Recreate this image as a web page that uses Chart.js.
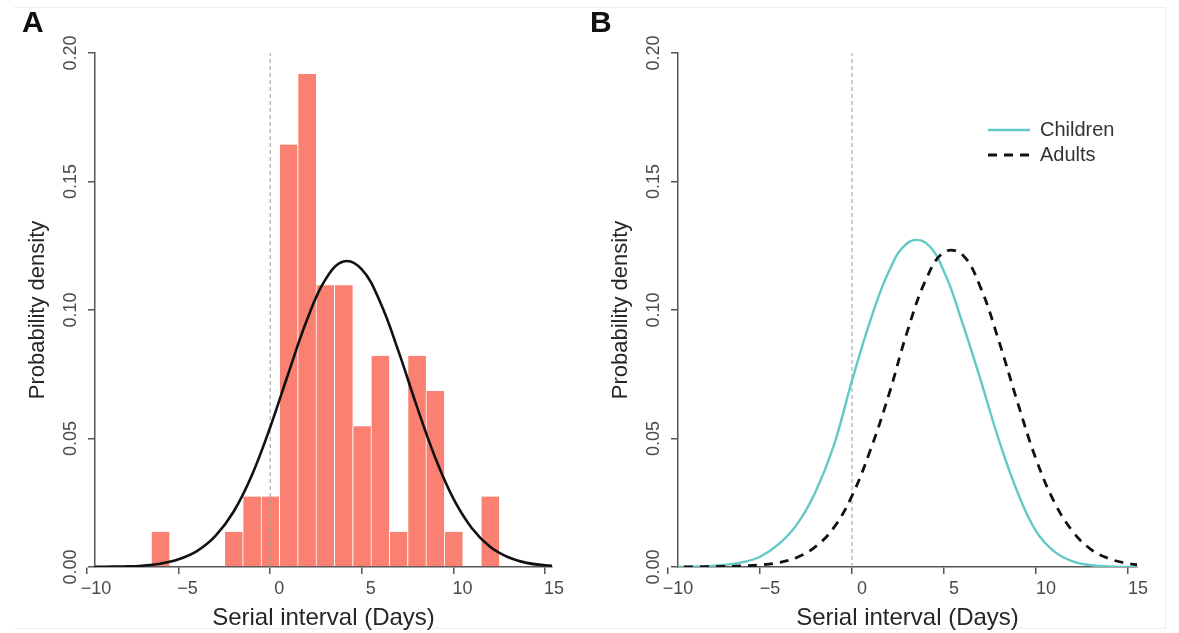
<!DOCTYPE html>
<html lang="en">
<head>
<meta charset="utf-8">
<title>Serial interval</title>
<script src="https://cdn.jsdelivr.net/npm/chart.js@4.4.1/dist/chart.umd.min.js"></script>
<style>
  html, body { margin: 0; padding: 0; background: #ffffff; }
  #pagina { position: relative; width: 1179px; height: 633px; overflow: hidden; background: #fff; }
  #moldura { position: absolute; left: 14px; top: 7px; width: 1152px; height: 622px; box-sizing: border-box;
             border-top: 1px solid #eeeeee; border-right: 1px solid #eeeeee; border-bottom: 1px solid #eeeeee; }
  canvas { position: absolute; top: 0; }
  #graficoA { left: 0; }
  #graficoB { left: 590px; }
</style>
</head>
<body>
<div id="pagina">
  <div id="moldura"></div>
  <canvas id="graficoA" width="590" height="633"></canvas>
  <canvas id="graficoB" width="589" height="633"></canvas>
</div>
<script>
// ---- dados ----

// Painel A: histograma (classes de 1 dia centradas nos inteiros)
const binCenters = [-6, -5, -4, -3, -2, -1, 0, 1, 2, 3, 4, 5, 6, 7, 8, 9, 10, 11, 12];
const binDensity = [0.0137, 0, 0, 0, 0.0137, 0.0274, 0.0274, 0.1644, 0.1918, 0.1096, 0.1096,
                    0.0548, 0.0822, 0.0137, 0.0822, 0.0685, 0.0137, 0, 0.0274];

// curvas (valores lidos a cada dia)
const curveX = [-10, -9, -8, -7, -6, -5, -4, -3, -2, -1, 0, 1, 2, 3, 4, 5, 6, 7, 8, 9, 10, 11, 12, 13, 14, 15, 16];
const fitA = [0.0000, 0.0001, 0.0002, 0.0005, 0.0013, 0.0030, 0.0062, 0.0120, 0.0215, 0.0357, 0.0544,
              0.0755, 0.0960, 0.1117, 0.1189, 0.1158, 0.1031, 0.0840, 0.0626, 0.0427, 0.0266, 0.0152,
              0.0079, 0.0038, 0.0016, 0.0007, 0.0003];
const children = [0.0000, 0.0001, 0.0003, 0.0008, 0.0018, 0.0040, 0.0088, 0.0165, 0.0290, 0.0470, 0.0725,
                  0.0960, 0.1150, 0.1260, 0.1262, 0.1150, 0.0950, 0.0725, 0.0490, 0.0290, 0.0140, 0.0060,
                  0.0022, 0.0007, 0.0002, 0.0000, 0.0000];
const adults = [0.0000, 0.0000, 0.0001, 0.0002, 0.0004, 0.0008, 0.0017, 0.0037, 0.0078, 0.0152, 0.0277,
                0.0455, 0.0670, 0.0915, 0.1115, 0.1225, 0.1215, 0.1085, 0.0875, 0.0640, 0.0420, 0.0252,
                0.0138, 0.0068, 0.0032, 0.0014, 0.0006];

// linha de referência vertical em x = 0
const refX = 0;
const refY = [0, 0.2];

// marcas dos eixos
const xTicks = [-10, -5, 0, 5, 10, 15];
const yTicks = [0, 0.05, 0.10, 0.15, 0.20];

// ---- estilo ----
const familia = "'Liberation Sans', Arial, Helvetica, sans-serif";
const corEixo = '#555555';
const corTicks = '#4a4a4a';
const corTexto = '#262626';
const corBarra = '#fa8072';
const corCiano = '#62c9c6';

Chart.defaults.font.family = familia;

// move a legenda (posição 'chartArea') para o canto superior direito
const posicionarLegenda = {
    id: 'posicionarLegenda',
    afterLayout(chart) {
        const leg = chart.legend;
        if (leg && leg.options.display && chart.options.plugins.posicionarLegenda) {
            leg.left = chart.options.plugins.posicionarLegenda.x;
            leg.top = chart.options.plugins.posicionarLegenda.y;
        }
    }
};

function pontos(ys) {
    return curveX.map((x, i) => ({ x: x, y: ys[i] }));
}

function linhaReferencia() {
    return {
        type: 'line',
        label: 'ref',
        data: refY.map(y => ({ x: refX, y: y })),
        borderColor: '#9a9a9a',
        borderWidth: 1,
        borderDash: [4, 3],
        pointRadius: 0,
        fill: false
    };
}

function opcoes(geo) {
    return {
        responsive: false,
        animation: false,
        events: [],
        devicePixelRatio: 1,
        layout: { padding: { left: geo.padLeft, right: geo.padRight, top: 0, bottom: 0 } },
        plugins: {
            title: {
                display: true,
                text: geo.letra,
                align: 'start',
                color: '#111',
                font: { size: 30, weight: 'bold', family: familia },
                padding: { top: 6, bottom: 11 }
            },
            legend: geo.legenda ? {
                display: true,
                position: 'chartArea',
                align: 'start',
                labels: {
                    usePointStyle: true,
                    pointStyle: 'line',
                    pointStyleWidth: 42,
                    padding: 5,
                    color: '#333',
                    font: { size: 20, family: familia },
                    generateLabels(chart) {
                        const itens = Chart.defaults.plugins.legend.labels.generateLabels(chart);
                        itens.forEach(it => {
                            const ds = chart.data.datasets[it.datasetIndex];
                            it.lineDash = ds.borderDash || [];
                            it.lineWidth = ds.borderWidth;
                            it.strokeStyle = ds.borderColor;
                        });
                        return itens
                            .filter(it => it.text !== 'ref')
                            .sort((a, b) => a.datasetIndex - b.datasetIndex);
                    }
                }
            } : { display: false },
            tooltip: { enabled: false },
            posicionarLegenda: geo.legenda ? { x: geo.legendaX, y: geo.legendaY } : false
        },
        scales: {
            x: {
                type: 'linear',
                min: geo.xMin,
                max: geo.xMax,
                offset: false,
                afterBuildTicks: s => { s.ticks = xTicks.map(v => ({ value: v })); },
                afterFit: s => { s.height = 66; },
                border: { display: true, color: corEixo, width: 1.5 },
                grid: { offset: false, drawOnChartArea: false, drawTicks: true, tickLength: 7, color: corEixo, lineWidth: 1.5 },
                ticks: {
                    autoSkip: false,
                    minRotation: 0,
                    maxRotation: 0,
                    padding: 4,
                    labelOffset: geo.labelOffset,
                    color: corTicks,
                    font: { size: 18, family: familia },
                    callback: v => v < 0 ? '\u2212' + Math.abs(v) : String(v)
                },
                title: {
                    display: true,
                    text: 'Serial interval (Days)',
                    color: corTexto,
                    font: { size: 24, family: familia },
                    padding: { top: 0, bottom: 0 }
                }
            },
            y: {
                type: 'linear',
                min: 0,
                max: 0.2,
                beginAtZero: true,
                afterBuildTicks: s => { s.ticks = yTicks.map(v => ({ value: v })); },
                afterFit: s => { s.width = geo.yWidth; },
                border: { display: true, color: corEixo, width: 1.5 },
                grid: { drawOnChartArea: false, drawTicks: true, tickLength: 7, color: corEixo, lineWidth: 1.5 },
                ticks: {
                    minRotation: 90,
                    maxRotation: 90,
                    crossAlign: 'center',
                    padding: -1,
                    color: corTicks,
                    font: { size: 18, family: familia },
                    callback: v => v.toFixed(2)
                },
                title: {
                    display: true,
                    text: 'Probability density',
                    color: corTexto,
                    font: { size: 22, family: familia },
                    padding: { top: geo.yTitlePad, bottom: 0 }
                }
            }
        }
    };
}

// ---- Painel A ----
new Chart(document.getElementById('graficoA').getContext('2d'), {
    type: 'line',
    data: {
        datasets: [
            {
                type: 'line',
                label: 'Normal fit',
                data: pontos(fitA),
                borderColor: '#111111',
                borderWidth: 2.6,
                tension: 0.4,
                pointRadius: 0,
                fill: false,
                order: 0
            },
            Object.assign(linhaReferencia(), { order: 1 }),
            {
                type: 'bar',
                label: 'Observed',
                data: binCenters.map((x, i) => ({ x: x, y: binDensity[i] || null })),
                backgroundColor: corBarra,
                borderColor: '#ffffff',
                borderWidth: { left: 1, right: 0, top: 0, bottom: 0 },
                borderSkipped: false,
                barPercentage: 1,
                categoryPercentage: 1,
                order: 2
            }
        ]
    },
    options: opcoes({
        letra: 'A', padLeft: 22, padRight: 38, yWidth: 73,
        xMin: -9.563, xMax: 15.382, labelOffset: 9, yTitlePad: 3, legenda: false
    }),
    plugins: [posicionarLegenda]
});

// ---- Painel B ----
new Chart(document.getElementById('graficoB').getContext('2d'), {
    type: 'line',
    data: {
        datasets: [
            {
                label: 'Children',
                data: pontos(children),
                borderColor: corCiano,
                backgroundColor: corCiano,
                borderWidth: 2.4,
                tension: 0.4,
                pointRadius: 0,
                fill: false,
                order: 1
            },
            {
                label: 'Adults',
                data: pontos(adults),
                borderColor: '#111111',
                backgroundColor: '#111111',
                borderWidth: 2.8,
                borderDash: [9, 7],
                tension: 0.4,
                pointRadius: 0,
                fill: false,
                order: 0
            },
            Object.assign(linhaReferencia(), { order: 2 })
        ]
    },
    options: opcoes({
        letra: 'B', padLeft: 0, padRight: 42, yWidth: 88,
        xMin: -9.457, xMax: 15.489, labelOffset: 10, yTitlePad: 18,
        legenda: true, legendaX: 393, legendaY: 115
    }),
    plugins: [posicionarLegenda]
});
</script>
</body>
</html>
